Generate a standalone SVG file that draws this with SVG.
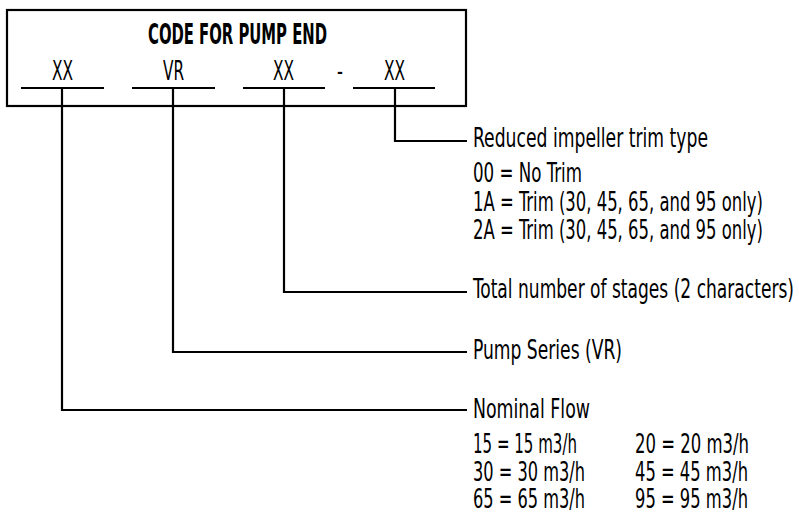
<svg xmlns="http://www.w3.org/2000/svg" width="799" height="514" viewBox="0 0 799 514">
<style>
.t{font-family:"Liberation Sans Narrow","DejaVu Sans Condensed","Liberation Sans",sans-serif;font-size:26px;fill:#000}
.h{font-size:28px;font-weight:bold}
.ln{fill:none;stroke:#000;stroke-width:2.2}
</style>
<rect width="799" height="514" fill="#fff"/>
<g id="code-box">
<rect class="ln" x="7" y="10" width="459" height="96"/>
<text class="t h" x="148" y="44" textLength="179" lengthAdjust="spacingAndGlyphs">CODE FOR PUMP END</text>
<text class="t" x="52" y="80" textLength="21" lengthAdjust="spacingAndGlyphs">XX</text>
<text class="t" x="163" y="80" textLength="21" lengthAdjust="spacingAndGlyphs">VR</text>
<text class="t" x="273" y="80" textLength="21" lengthAdjust="spacingAndGlyphs">XX</text>
<text class="t" x="337" y="80" textLength="6" lengthAdjust="spacingAndGlyphs">-</text>
<text class="t" x="384" y="80" textLength="21" lengthAdjust="spacingAndGlyphs">XX</text>
<path class="ln" d="M21 88H104M132 88H215M243 88H325M353 88H435"/>
</g>
<g id="connectors">
<path class="ln" d="M395 88V141H467"/>
<path class="ln" d="M284 88V292H467"/>
<path class="ln" d="M173 88V352H467"/>
<path class="ln" d="M62 88V410H467"/>
</g>
<g id="trim-type">
<text class="t" x="473" y="147" textLength="235" lengthAdjust="spacingAndGlyphs">Reduced impeller trim type</text>
<text class="t" x="473" y="182" textLength="109" lengthAdjust="spacingAndGlyphs">00 = No Trim</text>
<text class="t" x="473" y="210.5" textLength="290" lengthAdjust="spacingAndGlyphs">1A = Trim (30, 45, 65, and 95 only)</text>
<text class="t" x="473" y="239" textLength="290" lengthAdjust="spacingAndGlyphs">2A = Trim (30, 45, 65, and 95 only)</text>
</g>
<g id="stages">
<text class="t" x="473" y="298" textLength="321" lengthAdjust="spacingAndGlyphs">Total number of stages (2 characters)</text>
</g>
<g id="series">
<text class="t" x="473" y="359" textLength="149" lengthAdjust="spacingAndGlyphs">Pump Series (VR)</text>
</g>
<g id="flow">
<text class="t" x="473" y="418" textLength="117" lengthAdjust="spacingAndGlyphs">Nominal Flow</text>
<text class="t" x="473" y="453" textLength="104" lengthAdjust="spacingAndGlyphs">15 = 15 m3/h</text>
<text class="t" x="473" y="481" textLength="112" lengthAdjust="spacingAndGlyphs">30 = 30 m3/h</text>
<text class="t" x="473" y="508" textLength="112" lengthAdjust="spacingAndGlyphs">65 = 65 m3/h</text>
<text class="t" x="635" y="453" textLength="114" lengthAdjust="spacingAndGlyphs">20 = 20 m3/h</text>
<text class="t" x="635" y="481" textLength="113" lengthAdjust="spacingAndGlyphs">45 = 45 m3/h</text>
<text class="t" x="635" y="508" textLength="113" lengthAdjust="spacingAndGlyphs">95 = 95 m3/h</text>
</g>
</svg>
